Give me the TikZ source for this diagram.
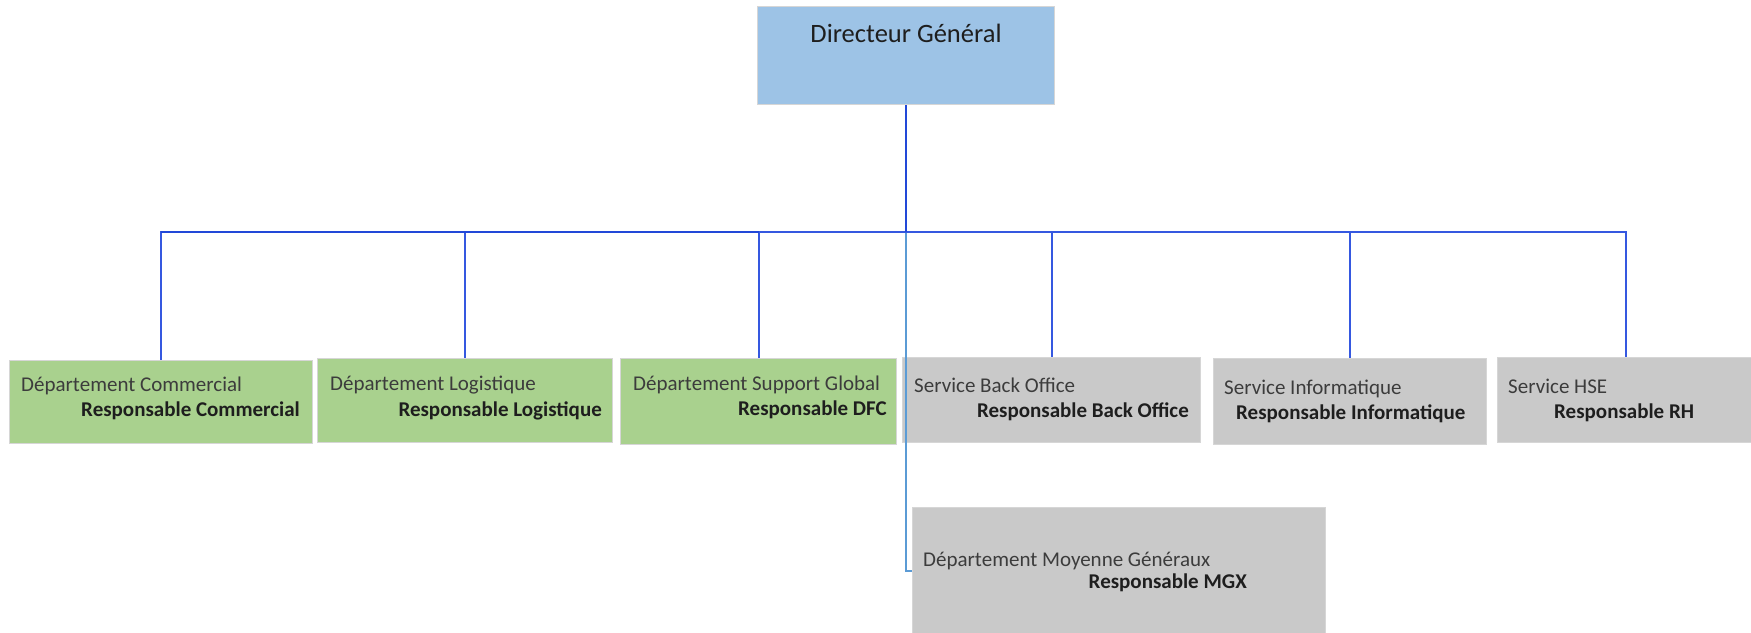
\documentclass[tikz,border=0pt]{standalone}
\usepackage{fontspec}
\setmainfont{Carlito}
\definecolor{dgblue}{HTML}{9DC3E6}
\definecolor{green1}{HTML}{A9D18E}
\definecolor{gray1}{HTML}{C9C9C9}
\definecolor{edge1}{HTML}{D6D6D6}
\definecolor{busblue}{HTML}{2248D8}
\definecolor{dropblue}{HTML}{3558E0}
\definecolor{mgxblue}{HTML}{5B9BD5}
\definecolor{subtxt}{HTML}{3C3C3C}
\definecolor{boldtxt}{HTML}{1E1E1E}
\tikzset{
  boxbase/.style={draw=edge1, line width=1pt, inner sep=0pt, anchor=north west, rectangle},
  dgbox/.style={boxbase, fill=dgblue},
  gbox/.style={boxbase, fill=green1},
  ybox/.style={boxbase, fill=gray1},
  subtext/.style={inner sep=0pt, text=subtxt, font=\fontsize{21}{25}\selectfont},
  resptext/.style={inner sep=0pt, text=boldtxt, font=\fontsize{21}{25}\selectfont\bfseries},
  titletext/.style={inner sep=0pt, text=boldtxt, font=\fontsize{26.5}{30}\selectfont},
  busline/.style={draw=busblue, line width=2.4pt},
  dropline/.style={draw=dropblue, line width=2pt},
  mgxline/.style={draw=mgxblue, line width=1.5pt},
}
\begin{document}
\begin{tikzpicture}[x=1pt,y=-1pt]
\useasboundingbox (0,0) rectangle (1751,632);
% boxes
\node[dgbox, minimum width=297pt, minimum height=98pt] (dg) at (757,6) {};
\node[gbox, minimum width=303pt, minimum height=83pt] (c1) at (9,360) {};
\node[gbox, minimum width=295pt, minimum height=84pt] (c2) at (317,358) {};
\node[gbox, minimum width=276pt, minimum height=86pt] (c3) at (620,358) {};
\node[ybox, minimum width=298pt, minimum height=85pt] (c4) at (902,357) {};
\node[ybox, minimum width=273pt, minimum height=86pt] (c5) at (1213,358) {};
\node[ybox, minimum width=256pt, minimum height=85pt] (c6) at (1497,357) {};
\node[ybox, minimum width=413pt, minimum height=127pt] (mgx) at (912,507) {};
% connectors
\coordinate (bus) at (906,232);
\draw[mgxline] (bus) |- (mgx.west);
\draw[dropline] (bus) -| (c1.north);
\draw[dropline] (bus) -| (c2.north);
\draw[dropline] (bus) -| (c3.north);
\draw[dropline] (bus) -| (c4.north);
\draw[dropline] (bus) -| (c5.north);
\draw[dropline] (bus) -| (c6.north);
\draw[busline] (dg.south) -- (bus);
\draw[busline] (c1.north |- bus) -- (c3.north |- bus);
% texts
\node[titletext, anchor=base] (dgt) at (906,42) {Directeur Général};
\node[subtext, anchor=base west] (c1a) at (21,391) {Département Commercial};
\node[resptext, anchor=base east] (c1b) at (300,416) {Responsable Commercial};
\node[subtext, anchor=base west] (c2a) at (330,390) {Département Logistique};
\node[resptext, anchor=base east] (c2b) at (602,416) {Responsable Logistique};
\node[subtext, anchor=base west] (c3a) at (633,390) {Département Support Global};
\node[resptext, anchor=base east] (c3b) at (887,415) {Responsable DFC};
\node[subtext, anchor=base west] (c4a) at (914,392) {Service Back Office};
\node[resptext, anchor=base east] (c4b) at (1189,417) {Responsable Back Office};
\node[subtext, anchor=base west] (c5a) at (1224,394) {Service Informatique};
\node[resptext, anchor=base west] (c5b) at (1236,419) {Responsable Informatique};
\node[subtext, anchor=base west] (c6a) at (1508,393) {Service HSE};
\node[resptext, anchor=base west] (c6b) at (1554,418) {Responsable RH};
\node[subtext, anchor=base west] (mgxa) at (923,566) {Département Moyenne Généraux};
\node[resptext, anchor=base east] (mgxb) at (1247,588) {Responsable MGX};
\end{tikzpicture}
\end{document}
